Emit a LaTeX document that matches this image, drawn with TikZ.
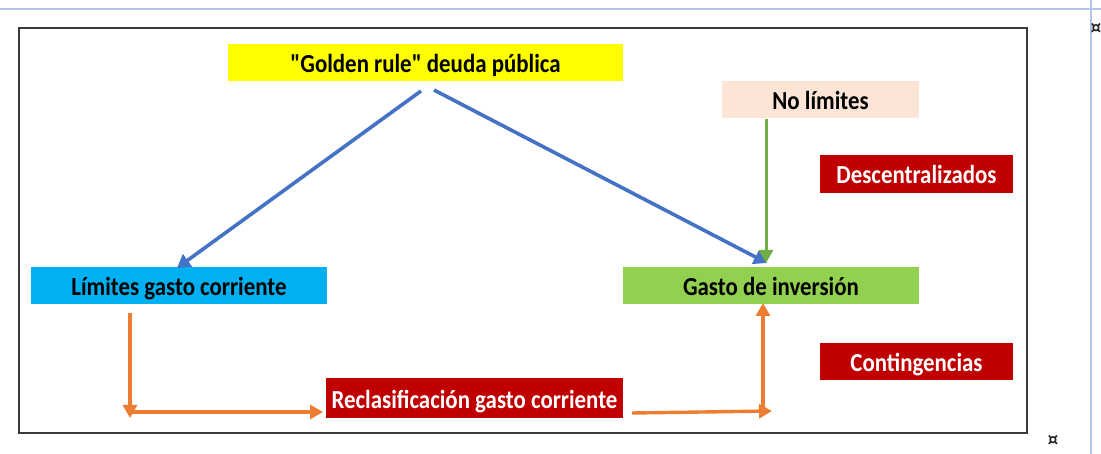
\documentclass[tikz,border=0pt]{standalone}
\usepackage{fontspec}
\newfontfamily\calib{Carlito}[FakeStretch=0.88]
\newfontfamily\symfont{DejaVu Sans}
\usetikzlibrary{arrows.meta}
\definecolor{pageblue}{HTML}{B4C6E7}
\definecolor{frameg}{HTML}{3A3A3A}
\definecolor{yel}{HTML}{FFFF00}
\definecolor{peach}{HTML}{FCE4D6}
\definecolor{darkred}{HTML}{C00000}
\definecolor{skyb}{HTML}{00B0F0}
\definecolor{lgreen}{HTML}{92D050}
\definecolor{arrblue}{HTML}{4472C4}
\definecolor{arrgreen}{HTML}{70AD47}
\definecolor{arrorange}{HTML}{ED7D31}
\tikzset{
  box/.style={inner sep=0pt, text height=24pt, text depth=4pt, font=\calib\fontsize{26}{30}\selectfont\bfseries},
  redbox/.style={box, fill=darkred, text=white},
  bluearr/.style={draw=arrblue, line width=3.6pt, -{Triangle[length=13pt,width=15pt]}},
  greenarr/.style={draw=arrgreen, line width=3pt, -{Triangle[length=13pt,width=14pt]}},
  orangearr/.style={draw=arrorange, line width=3.4pt, -{Triangle[length=13pt,width=14pt]}},
  pilcrow/.style={font=\symfont\bfseries\fontsize{17}{18}\selectfont, text=black!85, inner sep=0pt}
}
\begin{document}
\begin{tikzpicture}[x=1pt,y=-1pt]
\useasboundingbox (0,0) rectangle (1101,454);
% page artifacts
\draw[pageblue, line width=1.5pt] (0,9) -- (1101,9);
\draw[pageblue, line width=1.5pt] (1091,0) -- (1091,454);
\node[pilcrow] (c1) at (1096,28) {¤};
\node[pilcrow] (c2) at (1053,440) {¤};
% frame
\draw[frameg, line width=2.4pt] (19,28) rectangle (1027,433);
% nodes
\node[box, fill=yel, minimum width=395pt, minimum height=37pt] (gold) at (425.5,62.5) {"Golden rule" deuda pública};
\node[box, fill=peach, minimum width=197pt, minimum height=37pt] (nolim) at (820.5,99.5) {No límites};
\node[redbox, minimum width=193pt, minimum height=38pt] (desc) at (916.5,174) {Descentralizados};
\node[box, fill=skyb, minimum width=296pt, minimum height=37pt] (lim) at (179,286) {Límites gasto corriente};
\node[box, fill=lgreen, minimum width=296pt, minimum height=37pt] (inv) at (771,286) {Gasto de inversión};
\node[redbox, minimum width=193pt, minimum height=37pt] (cont) at (916.5,361.5) {Contingencias};
\node[redbox, minimum width=297pt, minimum height=39pt] (recl) at (474.5,398) {Reclasificación gasto corriente};
% connector ends
\coordinate (b1) at (421,91);
\coordinate (b2) at (434,90);
\coordinate (b1e) at (177,268);
\coordinate (b2e) at (767,263);
\coordinate (g1) at (766,119);
\coordinate (g1e) at (766,263);
\coordinate (o1) at (130,313);
\coordinate (o2) at (130,418);
\coordinate (o3) at (131,412);
\coordinate (o4) at (323,412);
\coordinate (o5) at (632,413);
\coordinate (o6) at (772,411);
\coordinate (o7) at (763,414);
\coordinate (o8) at (763,303);
% connectors
\draw[bluearr] (b1) -- (b1e);
\draw[bluearr] (b2) -- (b2e);
\draw[greenarr] (g1) -- (g1e);
\draw[orangearr] (o1) -- (o2);
\draw[orangearr] (o3) -- (o4);
\draw[orangearr] (o5) -- (o6);
\draw[orangearr] (o7) -- (o8);
\end{tikzpicture}
\end{document}
